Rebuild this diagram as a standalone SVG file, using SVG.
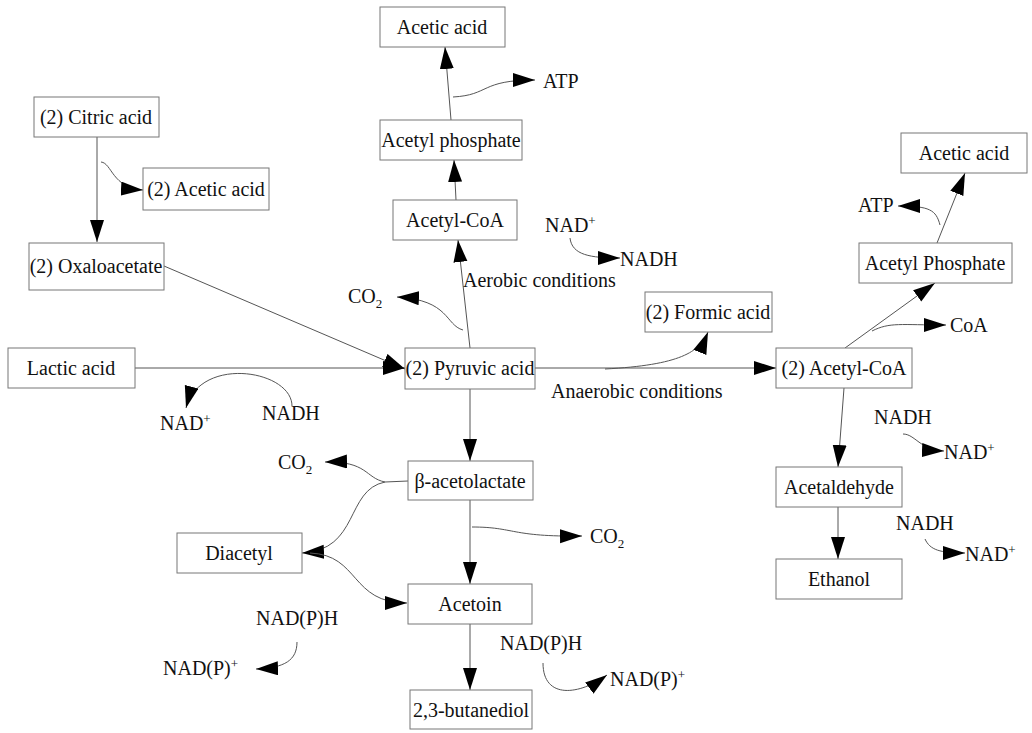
<svg xmlns="http://www.w3.org/2000/svg" width="1032" height="733" viewBox="0 0 1032 733">
<style>
text{font-family:"Liberation Serif","Times New Roman",serif;font-size:20px;fill:#111}
.box rect{fill:#fff;stroke:#777;stroke-width:1}
.box text{text-anchor:middle}
#connectors path{fill:none;stroke:#555;stroke-width:1}
.arr{marker-end:url(#ah)}
</style>
<defs>
<marker id="ah" markerUnits="userSpaceOnUse" markerWidth="23" markerHeight="15" refX="22" refY="7" orient="auto" viewBox="0 0 23 15">
<path d="M0,0 L22,7 L0,14 z" fill="#000"/>
</marker>
</defs>
<rect width="1032" height="733" fill="#fff"/>
<g id="connectors">
<path class="arr" d="M97,137 L97,242"/>
<path class="arr" d="M101,162 C112,163 112,188 143,190"/>
<path class="arr" d="M164,266 L405,369"/>
<path class="arr" d="M135,368 L405,368"/>
<path class="arr" d="M292,406 C292,370 200,355 186,408"/>
<path class="arr" d="M470,348 L458,240"/>
<path class="arr" d="M463,330 C445,325 450,300 397,297"/>
<path class="arr" d="M456,200 L454,160"/>
<path class="arr" d="M451,120 L445,47"/>
<path class="arr" d="M453,97 C490,95 480,80 535,80"/>
<path class="arr" d="M570,238 C572,255 590,258 620,258"/>
<path class="arr" d="M535,368 L776,368"/>
<path class="arr" d="M605,369 C680,365 700,352 708,332"/>
<path class="arr" d="M845,348 L935,283"/>
<path class="arr" d="M872,331 C890,322 900,325 946,325"/>
<path class="arr" d="M937,243 L965,173"/>
<path class="arr" d="M940,225 C936,210 930,206 898,206"/>
<path class="arr" d="M844,388 L838,467"/>
<path class="arr" d="M903,434 C915,434 920,450 944,451"/>
<path class="arr" d="M838,507 L838,559"/>
<path class="arr" d="M925,539 C930,550 940,553 965,553"/>
<path class="arr" d="M470,389 L470,461"/>
<path class="arr" d="M470,500 L470,584"/>
<path class="arr" d="M472,527 C515,527 510,537 582,536"/>
<path class="arr" d="M470,624 L470,690"/>
<path class="arr" d="M543,663 C543,700 580,695 607,675"/>
<path d="M408,481 L385,482"/>
<path class="arr" d="M385,482 C365,478 368,461 325,462"/>
<path class="arr" d="M385,482 C345,490 360,550 302,553"/>
<path class="arr" d="M310,553 C360,555 350,603 407,603"/>
<path class="arr" d="M297,642 C297,660 285,668 256,669"/>
</g>
<g id="n-acetic-top" class="box"><rect x="380" y="7" width="125" height="40"/><text x="442" y="34">Acetic acid</text></g>
<g id="n-acetylphosphate" class="box"><rect x="380" y="120" width="142" height="40"/><text x="451" y="147">Acetyl phosphate</text></g>
<g id="n-acetylcoa" class="box"><rect x="393" y="200" width="124" height="40"/><text x="455" y="227">Acetyl-CoA</text></g>
<g id="n-citric" class="box"><rect x="34" y="97" width="125" height="40"/><text x="96" y="124">(2) Citric acid</text></g>
<g id="n-acetic-left" class="box"><rect x="143" y="168" width="126" height="42"/><text x="206" y="196">(2) Acetic acid</text></g>
<g id="n-oxalo" class="box"><rect x="29" y="243" width="135" height="47"/><text x="96" y="273">(2) Oxaloacetate</text></g>
<g id="n-lactic" class="box"><rect x="8" y="348" width="127" height="40"/><text x="71" y="375">Lactic acid</text></g>
<g id="n-pyruvic" class="box"><rect x="405" y="348" width="130" height="41"/><text x="470" y="375">(2) Pyruvic acid</text></g>
<g id="n-aceto" class="box"><rect x="408" y="461" width="125" height="39"/><text x="470" y="488">β-acetolactate</text></g>
<g id="n-acetoin" class="box"><rect x="408" y="584" width="124" height="40"/><text x="470" y="611">Acetoin</text></g>
<g id="n-butanediol" class="box"><rect x="410" y="690" width="122" height="39"/><text x="471" y="717">2,3-butanediol</text></g>
<g id="n-diacetyl" class="box"><rect x="177" y="533" width="125" height="40"/><text x="239" y="560">Diacetyl</text></g>
<g id="n-formic" class="box"><rect x="645" y="292" width="127" height="40"/><text x="708" y="319">(2) Formic acid</text></g>
<g id="n-acetylcoa2" class="box"><rect x="776" y="348" width="136" height="40"/><text x="844" y="375">(2) Acetyl-CoA</text></g>
<g id="n-acetylphos2" class="box"><rect x="859" y="243" width="153" height="40"/><text x="935" y="270">Acetyl Phosphate</text></g>
<g id="n-acetic-right" class="box"><rect x="901" y="133" width="126" height="40"/><text x="964" y="160">Acetic acid</text></g>
<g id="n-acetaldehyde" class="box"><rect x="776" y="467" width="126" height="40"/><text x="839" y="494">Acetaldehyde</text></g>
<g id="n-ethanol" class="box"><rect x="776" y="559" width="126" height="40"/><text x="839" y="586">Ethanol</text></g>
<g id="labels">
<text x="543" y="88">ATP</text>
<text x="348" y="303">CO<tspan font-size="13" dy="5">2</tspan></text>
<text x="545" y="232">NAD<tspan font-size="13" dy="-7">+</tspan></text>
<text x="620" y="266">NADH</text>
<text x="463" y="287">Aerobic conditions</text>
<text x="551" y="398">Anaerobic conditions</text>
<text x="160" y="430">NAD<tspan font-size="13" dy="-7">+</tspan></text>
<text x="262" y="420">NADH</text>
<text x="950" y="332">CoA</text>
<text x="858" y="212">ATP</text>
<text x="874" y="424">NADH</text>
<text x="944" y="459">NAD<tspan font-size="13" dy="-7">+</tspan></text>
<text x="896" y="530">NADH</text>
<text x="965" y="561">NAD<tspan font-size="13" dy="-7">+</tspan></text>
<text x="278" y="469">CO<tspan font-size="13" dy="5">2</tspan></text>
<text x="590" y="543">CO<tspan font-size="13" dy="5">2</tspan></text>
<text x="500" y="650">NAD(P)H</text>
<text x="610" y="686">NAD(P)<tspan font-size="13" dy="-7">+</tspan></text>
<text x="256" y="625">NAD(P)H</text>
<text x="163" y="675">NAD(P)<tspan font-size="13" dy="-7">+</tspan></text>
</g>
</svg>
